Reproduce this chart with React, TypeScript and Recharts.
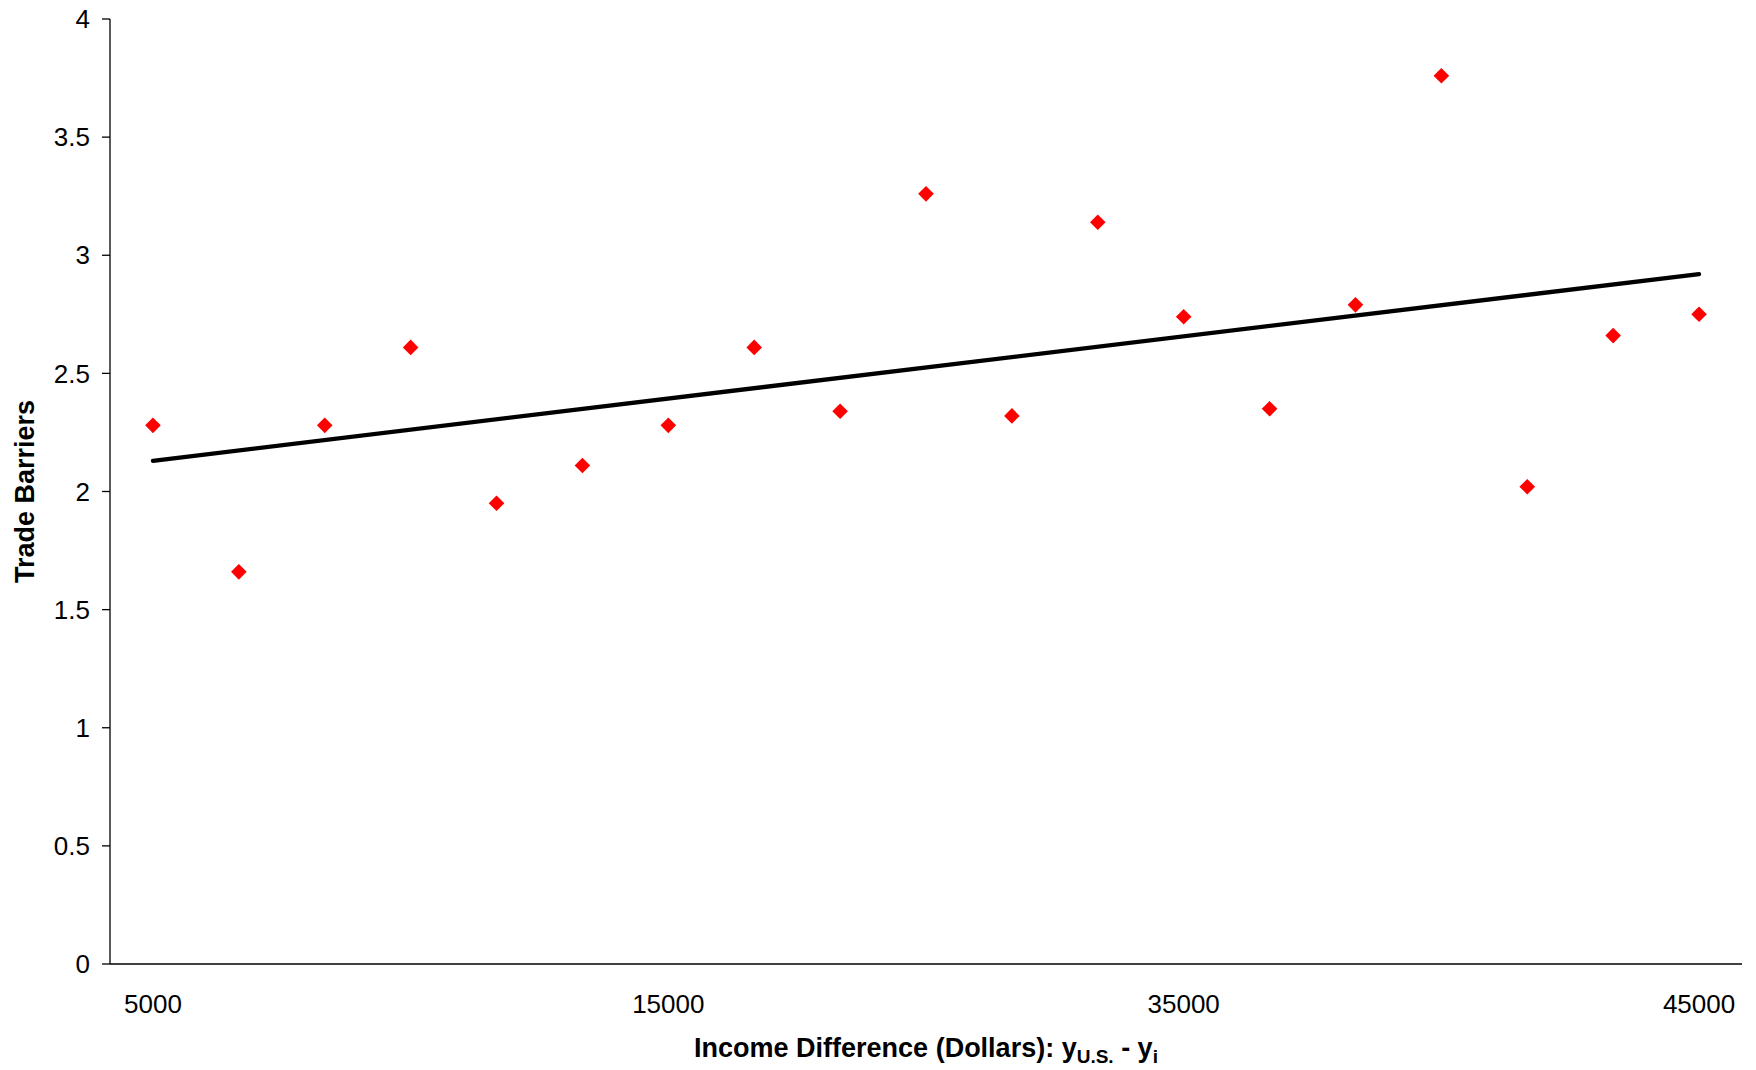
import { ComposedChart, Line, Scatter, XAxis, YAxis } from "recharts";

// trade barrier index per country, ordered by income gap to the U.S.
const tradeBarriers = [
  2.28, 1.66, 2.28, 2.61, 1.95, 2.11, 2.28, 2.61, 2.34, 3.26,
  2.32, 3.14, 2.74, 2.35, 2.79, 3.76, 2.02, 2.66, 2.75,
];

const xTickIndex = [0, 6, 12, 18];
const xTickLabels = ["5000", "15000", "35000", "45000"];

const yTicks = [0, 0.5, 1, 1.5, 2, 2.5, 3, 3.5, 4];

// linear trend line, start and end values
const trendIndex = [0, 18];
const trendValues = [2.13, 2.92];

const points = tradeBarriers.map((v, i) => ({ idx: i, value: v }));
const trend = trendIndex.map((idx, i) => ({ idx, trend: trendValues[i] }));

const font = "'Liberation Sans', Arial, sans-serif";

const Diamond = (props: any) => {
  const { cx, cy } = props;
  const r = 7.8;
  return (
    <polygon
      points={`${cx},${cy - r} ${cx + r},${cy} ${cx},${cy + r} ${cx - r},${cy}`}
      fill="#ff0000"
    />
  );
};

const XTitle = (props: any) => {
  const { viewBox } = props;
  const x = viewBox.x + viewBox.width / 2;
  const y = viewBox.y + 93;
  return (
    <text x={x} y={y} textAnchor="middle" fontFamily={font} fontWeight="bold" fontSize={27} fill="#000">
      Income Difference (Dollars): y
      <tspan fontSize={19} dy={6}>U.S.</tspan>
      <tspan dy={-6}> - y</tspan>
      <tspan fontSize={19} dy={6}>i</tspan>
    </text>
  );
};

const YTitle = (props: any) => {
  const { viewBox } = props;
  const x = 34;
  const y = viewBox.y + viewBox.height / 2;
  return (
    <text
      x={x}
      y={y}
      transform={`rotate(-90, ${x}, ${y})`}
      textAnchor="middle"
      fontFamily={font}
      fontWeight="bold"
      fontSize={27}
      fill="#000"
    >
      Trade Barriers
    </text>
  );
};

export default function App() {
  return (
    <div style={{ position: "absolute", left: 0, top: 0, background: "#fff" }}>
      <ComposedChart
        width={1756}
        height={1070}
        margin={{ top: 19, right: 14, bottom: 0, left: 0 }}
      >
        <XAxis
          type="number"
          dataKey="idx"
          domain={[-0.5, 18.5]}
          ticks={xTickIndex}
          tickFormatter={(v: number) => xTickLabels[xTickIndex.indexOf(v)]}
          tickLine={false}
          tickSize={6}
          tickMargin={25}
          axisLine={{ stroke: "#000", strokeWidth: 1.3 }}
          tick={{ fill: "#000", fontSize: 26, fontFamily: font }}
          height={106}
          label={{ content: XTitle }}
        />
        <YAxis
          type="number"
          domain={[0, 4]}
          ticks={yTicks}
          interval={0}
          width={110}
          tickSize={8}
          tickMargin={12}
          axisLine={{ stroke: "#000", strokeWidth: 1.3 }}
          tickLine={{ stroke: "#000", strokeWidth: 1.3 }}
          tick={{ fill: "#000", fontSize: 26, fontFamily: font }}
          label={{ content: YTitle }}
        />
        <Line
          data={trend}
          dataKey="trend"
          stroke="#000"
          strokeWidth={4.3}
          strokeLinecap="round"
          dot={false}
          activeDot={false}
          isAnimationActive={false}
        />
        <Scatter
          data={points}
          dataKey="value"
          shape={Diamond}
          isAnimationActive={false}
        />
      </ComposedChart>
    </div>
  );
}
